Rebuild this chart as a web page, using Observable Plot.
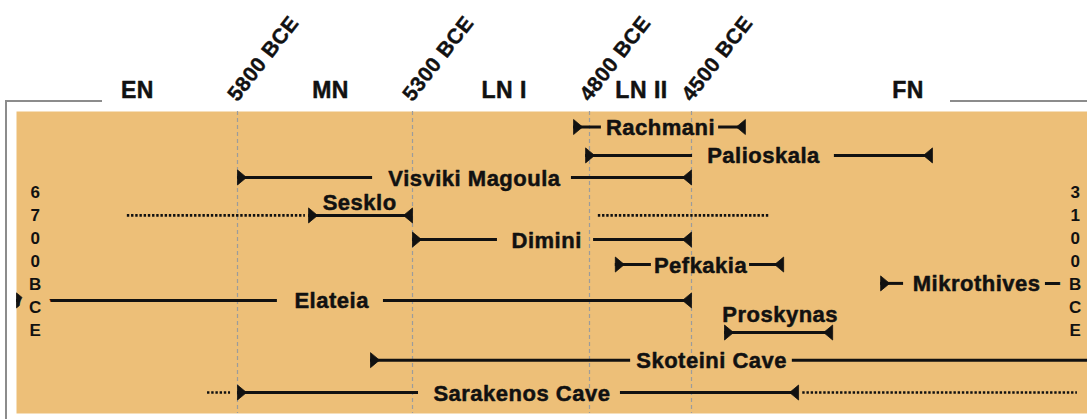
<!DOCTYPE html>
<html>
<head>
<meta charset="utf-8">
<script src="https://cdn.jsdelivr.net/npm/d3@7"></script>
<script src="https://cdn.jsdelivr.net/npm/@observablehq/plot@0.6"></script>
<style>
html, body { margin: 0; padding: 0; background: #fff; }
#wrap { position: relative; width: 1087px; height: 419px; overflow: hidden; }
#border { position: absolute; left: 5px; top: 100px; width: 1200px; height: 400px; border-left: 2px solid #8c8c8c; border-top: 2px solid #8c8c8c; }
#headerbox { position: absolute; left: 102px; top: 0; width: 848px; height: 110px; background: #fff; }
#chart { position: absolute; left: 0; top: 0; }
</style>
</head>
<body>
<div id="wrap"><div id="border"></div><div id="headerbox"></div><div id="chart"></div></div>
<script>
// ---- Data (years BCE) ----
const sites = ["Rachmani", "Palioskala", "Visviki Magoula", "Sesklo", "Dimini", "Pefkakia",
  "Mikrothives", "Elateia", "Proskynas", "Skoteini Cave", "Sarakenos Cave"];
const lanes = [0, 1.07, 1.9, 3.33, 4.24, 5.18, 5.89, 6.53, 7.74, 8.78, 10];
const labelYears = [4591, 4293, 5125, 5451, 4921, 4474, 3680, 5531, 4245, 4442, 4991];

const solidSegments = [
  ["Rachmani", 4845, 4765], ["Rachmani", 4422, 4345],
  ["Palioskala", 4811, 4497], ["Palioskala", 4089, 3807],
  ["Visviki Magoula", 5800, 5414], ["Visviki Magoula", 4851, 4500],
  ["Sesklo", 5597, 5300],
  ["Dimini", 5300, 5060], ["Dimini", 4788, 4500],
  ["Pefkakia", 4724, 4618], ["Pefkakia", 4333, 4235],
  ["Mikrothives", 3956, 3890], ["Mikrothives", 3482, 3361],
  ["Elateia", 6434, 5686], ["Elateia", 5383, 4500],
  ["Proskynas", 4405, 4094],
  ["Skoteini Cave", 5420, 4679], ["Skoteini Cave", 4210, 3361],
  ["Sarakenos Cave", 5800, 5283], ["Sarakenos Cave", 4709, 4192]
];
const dottedSegments = [
  ["Sesklo", 6116, 5606], ["Sesklo", 4774, 4273],
  ["Sarakenos Cave", 5886, 5820], ["Sarakenos Cave", 4180, 3390]
];
const startMarks = [
  ["Rachmani", 4845], ["Palioskala", 4811], ["Visviki Magoula", 5800], ["Sesklo", 5597],
  ["Dimini", 5300], ["Pefkakia", 4724], ["Mikrothives", 3956], ["Elateia", 6434],
  ["Proskynas", 4405], ["Skoteini Cave", 5420], ["Sarakenos Cave", 5800]
];
const endMarks = [
  ["Rachmani", 4345], ["Palioskala", 3807], ["Visviki Magoula", 4500], ["Sesklo", 5300],
  ["Dimini", 4500], ["Pefkakia", 4235], ["Elateia", 4500], ["Proskynas", 4094],
  ["Sarakenos Cave", 4192]
];

const boundaryYears = [5800, 5300, 4800, 4500];
const periodLabels = ["EN", "MN", "LN I", "LN II", "FN"];
const periodCenters = [6087, 5534, 5041, 4647, 3877];
const leftEdgeLabel = "6700BCE";
const rightEdgeLabel = "3100BCE";

// x scale breakpoints as drawn (the original is not to scale)
const xDomain = [6434, 5800, 5300, 4800, 4500, 3361];
const xRange = [16, 237, 412, 589, 691, 1087];

// ---- Helpers ----
const laneOf = name => lanes[sites.indexOf(name)];
const bg = "#edbf78";
const ink = "#111";
const startSymbol = {draw(c) { c.moveTo(0, -7.5); c.lineTo(9, 0); c.lineTo(0, 7.5); c.closePath(); }};
const endSymbol = {draw(c) { c.moveTo(0, -7.5); c.lineTo(-9, 0); c.lineTo(0, 7.5); c.closePath(); }};
const labels = sites.map((s, i) => ({site: s, year: labelYears[i], lane: lanes[i]}));
const labelFont = {fontSize: 22, fontWeight: "bold", fill: ink, stroke: ink, strokeWidth: 0.5};
const inLine = labels.filter(d => d.site !== "Sesklo" && d.site !== "Proskynas");

const chart = Plot.plot({
  width: 1087,
  height: 419,
  marginLeft: 16, marginRight: 0, marginTop: 111, marginBottom: 6,
  x: {type: "linear", domain: xDomain, range: xRange, axis: null},
  y: {domain: [-0.584, 10.79], range: [111, 413], axis: null},
  style: {background: "transparent", fontFamily: "'Liberation Sans', Arial, Helvetica, sans-serif", letterSpacing: "0.5px", color: ink},
  marks: [
    Plot.frame({fill: bg, stroke: "none"}),
    Plot.ruleX(boundaryYears, {x: d => d, stroke: "#9c9c9c", strokeWidth: 1.2, strokeDasharray: "4,3"}),
    Plot.ruleY(solidSegments, {y: d => laneOf(d[0]), x1: d => d[1], x2: d => d[2], stroke: ink, strokeWidth: 3}),
    Plot.ruleY(dottedSegments, {y: d => laneOf(d[0]), x1: d => d[1], x2: d => d[2], stroke: ink, strokeWidth: 2.6, strokeDasharray: "2.4,1.8"}),
    Plot.dot(startMarks, {x: d => d[1], y: d => laneOf(d[0]), symbol: startSymbol, fill: ink, stroke: ink, strokeWidth: 0.8, r: 5}),
    Plot.dot(endMarks, {x: d => d[1], y: d => laneOf(d[0]), symbol: endSymbol, fill: ink, stroke: ink, strokeWidth: 0.8, r: 5}),
    // vertical edge labels with a background halo
    Plot.text([leftEdgeLabel], {text: d => d.split("").join("\n"), frameAnchor: "left", dx: 19, dy: -3,
      fontSize: 17, fontWeight: "bold", lineHeight: 1.353, textAnchor: "middle", lineAnchor: "middle", fill: ink,
      stroke: bg, strokeWidth: 20, paintOrder: "stroke"}),
    Plot.text([rightEdgeLabel], {text: d => d.split("").join("\n"), frameAnchor: "right", dx: -12, dy: -3,
      fontSize: 17, fontWeight: "bold", lineHeight: 1.353, textAnchor: "middle", lineAnchor: "middle", fill: ink,
      stroke: bg, strokeWidth: 20, paintOrder: "stroke"}),
    // site labels interrupting their lines
    Plot.text(inLine, {x: "year", y: "lane", text: "site", dy: 1, ...labelFont}),
    // site labels sitting above their lines
    Plot.text(labels.filter(d => d.site === "Sesklo"), {x: "year", y: "lane", text: "site", lineAnchor: "bottom", dy: -5, ...labelFont}),
    Plot.text(labels.filter(d => d.site === "Proskynas"), {x: "year", y: "lane", text: "site", lineAnchor: "bottom", dy: -11, ...labelFont}),
    // header: period names and boundary years
    Plot.text(periodLabels, {x: (d, i) => periodCenters[i], text: d => d, frameAnchor: "top", lineAnchor: "middle", dy: -21,
      ...labelFont, fontSize: 23}),
    Plot.text(boundaryYears, {x: d => d, text: d => `${d} BCE`, frameAnchor: "top", dy: -9, dx: 0,
      rotate: -52, textAnchor: "start", lineAnchor: "bottom", ...labelFont, fontSize: 21, strokeWidth: 0.4})
  ]
});
document.getElementById("chart").appendChild(chart);
</script>
</body>
</html>
